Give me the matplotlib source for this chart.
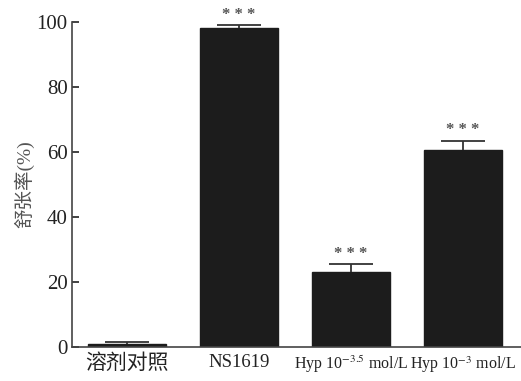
import matplotlib
matplotlib.use("Agg")
import matplotlib.pyplot as plt
import numpy as np

plt.rcParams['font.family'] = ['Liberation Serif', 'Noto Sans CJK SC']
plt.rcParams['mathtext.fontset'] = 'stix'

# relaxation rate per group (mean +/- SEM)
groups = ['溶剂对照', 'NS1619', 'Hyp 10$^{-3.5}$ mol/L', 'Hyp 10$^{-3}$ mol/L']
means = [1.0, 98.3, 23.2, 60.6]
errors = [0.6, 0.7, 2.3, 2.8]
marks = ['', '***', '***', '***']
label_sizes = [15, 13.5, 11.5, 11.5]

fig = plt.figure(figsize=(5.21, 3.81), dpi=100)
ax = fig.add_axes([0.138, 0.089, 0.862, 0.853])

x = np.arange(len(groups))
ax.bar(x, means, width=0.7, color='#1c1c1c', edgecolor='#1c1c1c')
# only the upper half of the error bar shows above the bar
eb = ax.errorbar(x, means, yerr=[np.zeros(len(errors)), errors], fmt='none',
                 ecolor='#333333', elinewidth=1.3, capsize=16, capthick=1.3)
for cap in eb[1]:
    if np.allclose(cap.get_ydata(), means):
        cap.set_visible(False)

for xi, m, e, s in zip(x, means, errors, marks):
    if s:
        ax.text(xi, m + e + 0.8, ' '.join(s), ha='center', va='bottom',
                fontsize=12, color='#555555', fontweight='bold')

ax.set_xlim(-0.49, 3.52)
ax.set_ylim(0, 100)
ax.set_yticks([0, 20, 40, 60, 80, 100])
ax.set_xticks(x)
ax.set_xticklabels(groups)
for lbl, fs in zip(ax.get_xticklabels(), label_sizes):
    lbl.set_fontsize(fs)

ax.tick_params(axis='y', direction='in', length=5, width=1.2, labelsize=15,
               pad=3, colors='#222222')
ax.tick_params(axis='x', length=0, pad=5, colors='#222222')
for side in ['top', 'right']:
    ax.spines[side].set_visible(False)
for side in ['left', 'bottom']:
    ax.spines[side].set_color('#444444')
    ax.spines[side].set_linewidth(1.2)

ax.set_ylabel('舒张率(%)', fontsize=14, color='#555555', labelpad=2)

fig.savefig('out.png', dpi=100)
